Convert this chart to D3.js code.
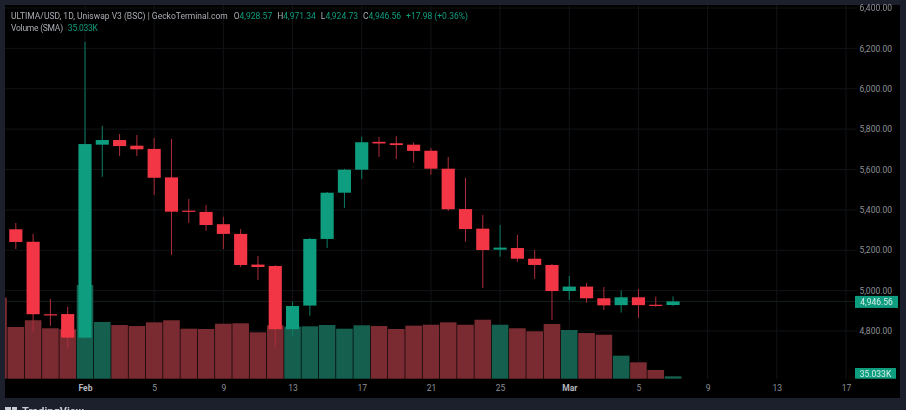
<!DOCTYPE html>
<html>
<head>
<meta charset="utf-8">
<script src="https://cdn.jsdelivr.net/npm/d3@7"></script>
<style>
  html, body { margin: 0; padding: 0; background: #1c202c; }
  svg { display: block; filter: blur(0.35px); }
  text { font-family: "Roboto", "Liberation Sans", sans-serif; }
</style>
</head>
<body>
<svg id="chart" width="906" height="410"></svg>
<script>
// candles start on Jan 28, one day after the first volume bar
const firstCandleDay = "2023-01-28";
const firstVolumeDay = "2023-01-27";

const opens = [5304, 5242, 4883, 4884, 4767, 5723, 5746, 5718, 5702, 5561, 5396, 5390, 5329, 5281, 5129, 5122,
  4809, 4926, 5256, 5485, 5599, 5737, 5730, 5723, 5693, 5604, 5404, 5307, 5203, 5211, 5158, 5127, 4998, 5020,
  4962, 4928, 4967, 4930, 4928.57];
const closes = [5241, 4883, 4879, 4767, 5726, 5746, 5716, 5700, 5559, 5391, 5391, 5325, 5281, 5127, 5117, 4809,
  4924, 5256, 5485, 5599, 5735, 5729, 5721, 5692, 5604, 5403, 5305, 5201, 5213, 5158, 5127, 4998, 5020, 4962,
  4927, 4967, 4928, 4925, 4946.56];
const highs = [5335, 5281, 4959, 4921, 6232, 5817, 5776, 5771, 5756, 5751, 5454, 5424, 5366, 5305, 5172, 5127,
  4945, 5261, 5489, 5603, 5763, 5761, 5766, 5733, 5707, 5662, 5558, 5375, 5325, 5276, 5201, 5132, 5073, 5038,
  5018, 5000, 5008, 4970, 4971.34];
const lows = [5206, 4797, 4825, 4716, 4760, 5564, 5667, 5667, 5474, 5177, 5335, 5297, 5206, 5117, 5053, 4721,
  4772, 4876, 5211, 5409, 5553, 5662, 5652, 5634, 5574, 5395, 5242, 5013, 5168, 5142, 5058, 4855, 4954, 4940,
  4904, 4891, 4865, 4921, 4924.73];
// thousands, the first bar is cut by the left edge
const volumes = [1183, 755, 853, 736, 721, 1368, 828, 784, 769, 823, 853, 730, 726, 803, 809, 677, 780, 759, 765,
  784, 730, 780, 769, 726, 774, 788, 823, 788, 861, 788, 736, 692, 799, 711, 667, 642, 336, 239, 127, 35.033];
const volumeUp = [false, false, false, false, false, true, true, false, false, false, false, false, false, false,
  false, false, false, true, true, true, true, true, false, false, false, false, false, false, false, true, false,
  false, false, true, false, false, true, false, false, true];

const priceTicks = [4800, 5000, 5200, 5400, 5600, 5800, 6000, 6200, 6400];
const timeTicks = ["2023-02-01", "2023-02-05", "2023-02-09", "2023-02-13", "2023-02-17", "2023-02-21", "2023-02-25",
  "2023-03-01", "2023-03-05", "2023-03-09", "2023-03-13", "2023-03-17"];
const timeLabels = ["Feb", "5", "9", "13", "17", "21", "25", "Mar", "5", "9", "13", "17"];

const titleText = "ULTIMA/USD, 1D, Uniswap V3 (BSC) | GeckoTerminal.com";
const ohlcLabels = ["O", "H", "L", "C"];
const ohlcValues = ["4,928.57", "4,971.34", "4,924.73", "4,946.56"];
const changeText = "+17.98 (+0.36%)";
const lastPrice = 4946.56;
const lastVolume = 35.033;

const green = "#0f9d7f", red = "#f23645", greenDim = "#155f4e", redDim = "#7a2b31";
const gridColor = "#111317", axisText = "#8d9098", legendText = "#a9acb3";

const parseDay = d3.utcParse("%Y-%m-%d");
const dayMs = 86400000;
const addDays = (day, n) => new Date(parseDay(day).getTime() + n * dayMs);

const candles = opens.map((o, i) => ({
  date: addDays(firstCandleDay, i), open: o, close: closes[i], high: highs[i], low: lows[i]
}));
const volumeBars = volumes.map((v, i) => ({ date: addDays(firstVolumeDay, i), value: v, up: volumeUp[i] }));

const x = d3.scaleUtc()
  .domain([parseDay("2023-02-01"), parseDay("2023-03-17")])
  .range([85, 846]);
const y = d3.scaleLinear().domain([4800, 6400]).range([331, 8]);
const yVol = d3.scaleLinear().domain([0, 1368]).range([378.7, 285]);
const step = x(addDays("2023-02-01", 1)) - x(parseDay("2023-02-01"));

const svg = d3.select("#chart");

// panel
svg.append("rect").attr("x", 5).attr("y", 5).attr("width", 895).attr("height", 393).attr("fill", "#000");

svg.append("clipPath").attr("id", "pane").append("rect")
  .attr("x", 5).attr("y", 5).attr("width", 852).attr("height", 374);

const pane = svg.append("g").attr("clip-path", "url(#pane)");

// grid
pane.append("g").selectAll("line").data(priceTicks).enter().append("line")
  .attr("x1", 5).attr("x2", 857).attr("y1", d => y(d)).attr("y2", d => y(d))
  .attr("stroke", gridColor);
pane.append("g").selectAll("line").data(timeTicks).enter().append("line")
  .attr("x1", d => x(parseDay(d))).attr("x2", d => x(parseDay(d))).attr("y1", 5).attr("y2", 379)
  .attr("stroke", gridColor);

// last price line
pane.append("line").attr("x1", 5).attr("x2", 857).attr("y1", y(lastPrice)).attr("y2", y(lastPrice))
  .attr("stroke", "#13201d");

// volume sits behind the candles
pane.append("g").selectAll("rect").data(volumeBars).enter().append("rect")
  .attr("x", d => x(d.date) - step * 0.48)
  .attr("width", step * 0.96)
  .attr("y", d => yVol(d.value))
  .attr("height", d => yVol(0) - yVol(d.value))
  .attr("fill", d => d.up ? greenDim : redDim);

// candles
const bodyWidth = step * 0.76;
const candleColor = d => d.close >= d.open ? green : red;

pane.append("g").selectAll("line").data(candles).enter().append("line")
  .attr("x1", d => x(d.date)).attr("x2", d => x(d.date))
  .attr("y1", d => y(d.high)).attr("y2", d => y(d.low))
  .attr("stroke", d => d.close >= d.open ? "#0c7d65" : "#b02c3a")
  .attr("stroke-width", 1);

pane.append("g").selectAll("rect").data(candles).enter().append("rect")
  .attr("x", d => x(d.date) - bodyWidth / 2)
  .attr("width", bodyWidth)
  .attr("y", d => y(Math.max(d.open, d.close)))
  .attr("height", d => Math.max(1.2, Math.abs(y(d.open) - y(d.close))))
  .attr("fill", candleColor);

// price axis
const yAxis = svg.append("g")
  .attr("transform", "translate(888,0)")
  .call(d3.axisLeft(y).tickValues(priceTicks).tickFormat(d3.format(",.2f")).tickSize(0));
yAxis.select(".domain").remove();
yAxis.selectAll("text").attr("fill", axisText).attr("font-size", 8.5).attr("dx", 7)
  .attr("font-family", "Roboto");

// time axis
const xAxis = svg.append("g")
  .attr("transform", "translate(0,382)")
  .call(d3.axisBottom(x)
    .tickValues(timeTicks.map(parseDay))
    .tickFormat((d, i) => timeLabels[i])
    .tickSize(0));
xAxis.select(".domain").remove();
xAxis.selectAll("text").attr("font-size", 8.5).attr("font-family", "Roboto")
  .attr("fill", (d, i) => timeLabels[i] === "Feb" || timeLabels[i] === "Mar" ? "#b4b7be" : axisText)
  .attr("font-weight", (d, i) => timeLabels[i] === "Feb" || timeLabels[i] === "Mar" ? 700 : 400);

// last value tags
svg.append("rect").attr("x", 855).attr("y", y(lastPrice) - 5.5).attr("width", 43).attr("height", 12).attr("fill", green);
svg.append("text").attr("x", 876.5).attr("y", y(lastPrice) + 3.5).attr("text-anchor", "middle")
  .attr("fill", "#d5eee8").attr("font-size", 8.5).text(d3.format(",.2f")(lastPrice));
svg.append("rect").attr("x", 855).attr("y", 368).attr("width", 41).attr("height", 10.7).attr("fill", green);
svg.append("text").attr("x", 875.5).attr("y", 376.5).attr("text-anchor", "middle")
  .attr("fill", "#d5eee8").attr("font-size", 8.5).text(d3.format(".3f")(lastVolume) + "K");

// legend
const legend = svg.append("text").attr("x", 11).attr("y", 18.5).attr("font-size", 8.5).attr("fill", legendText);
legend.append("tspan").text(titleText);
ohlcLabels.forEach((l, i) => {
  legend.append("tspan").attr("dx", i === 0 ? 6 : 5).text(l);
  legend.append("tspan").attr("fill", green).text(ohlcValues[i]);
});
legend.append("tspan").attr("dx", 5).attr("fill", green).text(changeText);

const legend2 = svg.append("text").attr("x", 11).attr("y", 31).attr("font-size", 8.5)
  .attr("letter-spacing", -0.25).attr("fill", legendText);
legend2.append("tspan").text("Volume (SMA)");
legend2.append("tspan").attr("dx", 5).attr("fill", green).text(d3.format(".3f")(lastVolume) + "K");

// watermark, cut by the bottom of the window like the reference
svg.append("rect").attr("x", 5).attr("y", 407).attr("width", 6).attr("height", 3).attr("fill", "#c9ccd3");
svg.append("rect").attr("x", 12).attr("y", 407).attr("width", 5).attr("height", 3).attr("fill", "#c9ccd3");
svg.append("text").attr("x", 22).attr("y", 415).attr("font-size", 11).attr("font-weight", 700)
  .attr("fill", "#c9ccd3").text("TradingView");
</script>
</body>
</html>
